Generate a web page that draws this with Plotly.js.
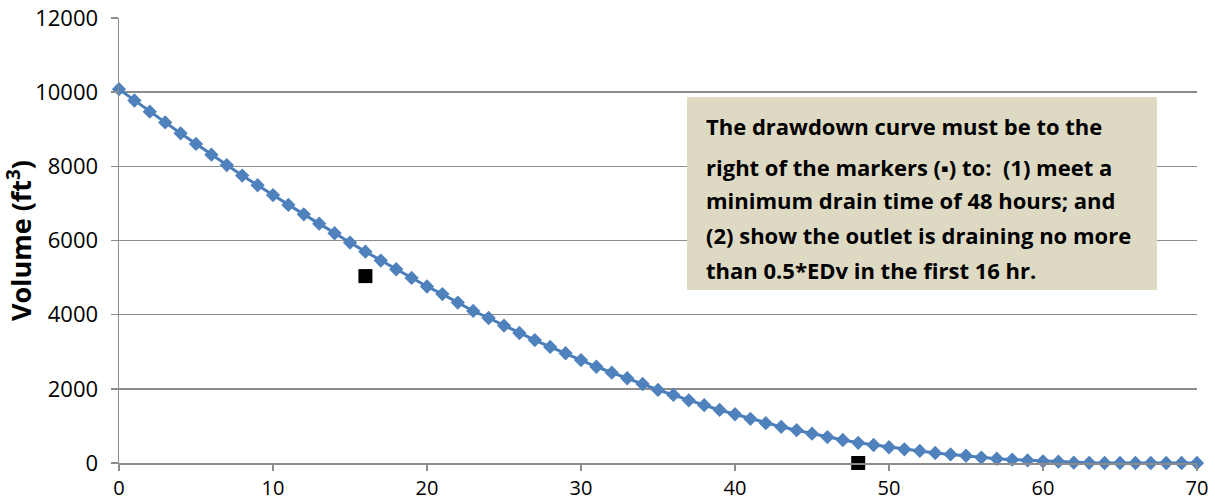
<!DOCTYPE html>
<html>
<head>
<meta charset="utf-8">
<script src="https://cdn.plot.ly/plotly-3.0.1.min.js"></script>
<style>html,body{margin:0;padding:0;background:#fff;}#chart{width:1215px;height:500px;}</style>
</head>
<body>
<div id="chart"></div>
<script>
// Drawdown curve: hours vs volume (ft^3)
const hours = [0,1,2,3,4,5,6,7,8,9,10,11,12,13,14,15,16,17,18,19,20,21,22,23,24,25,26,27,28,29,30,31,32,33,34,35,36,37,38,39,40,41,42,43,44,45,46,47,48,49,50,51,52,53,54,55,56,57,58,59,60,61,62,63,64,65,66,67,68,69,70];
const volume = [10080,9775,9475,9185,8890,8605,8315,8035,7750,7490,7225,6960,6705,6455,6195,5945,5700,5460,5225,4990,4760,4555,4325,4100,3910,3705,3505,3315,3130,2960,2775,2595,2435,2285,2130,1970,1835,1690,1560,1430,1315,1190,1075,975,885,790,700,620,545,485,425,370,325,270,230,195,145,115,90,70,45,35,10,5,0,0,0,0,0,0,0];
// Requirement markers
const markerHours = [16, 48];
const markerVolume = [5040, 0];
const yTitle = 'Volume (ft<sup>3</sup>)';
const noteLines = [
  'The drawdown curve must be to the',
  'right of the markers (\u25AA) to:  (1) meet a',
  'minimum drain time of 48 hours; and',
  '(2) show the outlet is draining no more',
  'than 0.5*EDv in the first 16 hr.'
];

const W = 1215, H = 500;
const M = {l: 119, r: 18, t: 18, b: 37};
const plotH = H - M.t - M.b, plotW = W - M.l - M.r;
const px2x = p => (p - M.l) / plotW;
const px2y = p => (H - M.b - p) / plotH;

const gridCol = '#8c8c8c';

const traces = [
  {
    x: hours, y: volume, type: 'scatter', mode: 'lines+markers',
    line: {color: '#4A7EBB', width: 3},
    marker: {symbol: 'diamond', size: 11, color: '#4F81BD'},
    cliponaxis: false, showlegend: false, hoverinfo: 'x+y'
  },
  {
    x: markerHours, y: markerVolume, type: 'scatter', mode: 'markers',
    marker: {symbol: 'square', size: 14, color: '#000'},
    cliponaxis: false, showlegend: false, hoverinfo: 'x+y'
  }
];

const lineY = [126, 167, 200, 235, 270];
const annotations = noteLines.map((t, i) => ({
  text: '<b>' + t + '</b>', xref: 'paper', yref: 'paper',
  x: px2x(704), y: px2y(lineY[i]), xanchor: 'left', yanchor: 'middle',
  showarrow: false, align: 'left',
  font: {family: 'Open Sans, sans-serif', size: 22, color: '#000'}
}));

const layout = {
  width: W, height: H,
  margin: M,
  paper_bgcolor: '#fff', plot_bgcolor: '#fff',
  showlegend: false,
  xaxis: {
    range: [0, 70], tickmode: 'linear', tick0: 0, dtick: 10, tickformat: 'd',
    showgrid: false, zeroline: false, automargin: false,
    showline: true, linecolor: gridCol, linewidth: 1.5,
    ticks: 'outside', ticklen: 6, tickcolor: gridCol, tickwidth: 1.5,
    tickfont: {family: 'Open Sans, sans-serif', size: 20, color: '#000'}, ticklabelstandoff: 0
  },
  yaxis: {
    range: [0, 12000], tickmode: 'linear', tick0: 0, dtick: 2000, tickformat: 'd',
    showgrid: true, gridcolor: gridCol, gridwidth: 1.5, zeroline: false, automargin: false,
    showline: true, linecolor: gridCol, linewidth: 1.5,
    ticks: 'outside', ticklen: 7, tickcolor: gridCol, tickwidth: 1.5,
    tickfont: {family: 'Open Sans, sans-serif', size: 22, color: '#000'}, ticklabelstandoff: 8,
    title: {text: '<b>' + yTitle + '</b>', font: {family: 'Open Sans, sans-serif', size: 27, color: '#000'}, standoff: 10}
  },
  shapes: [{
    type: 'rect', xref: 'paper', yref: 'paper', layer: 'above',
    x0: px2x(687), x1: px2x(1157), y0: px2y(290), y1: px2y(97),
    fillcolor: '#DDD9C3', line: {width: 0}
  }],
  annotations: annotations
};

Plotly.newPlot('chart', traces, layout, {displayModeBar: false, staticPlot: true});
</script>
</body>
</html>
